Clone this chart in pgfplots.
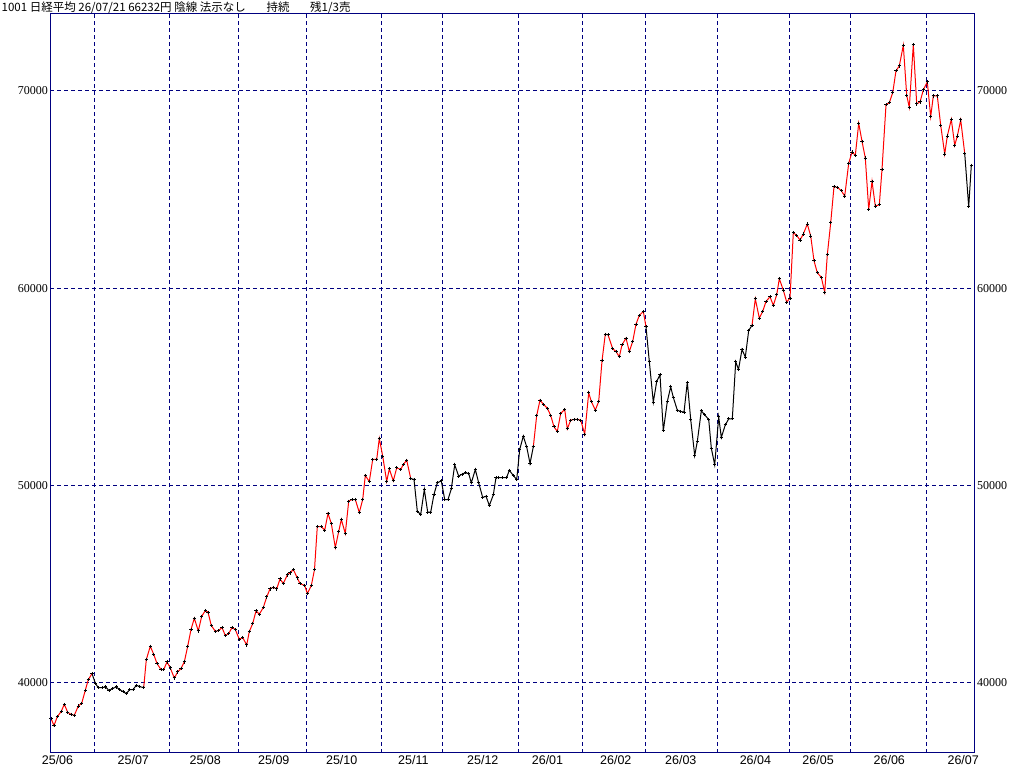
\documentclass[border=0pt]{standalone}
\usepackage{fontspec}
\setmainfont{Liberation Sans}
\newfontfamily\cjk{Noto Sans CJK JP}
\newfontfamily\serifnum{Liberation Serif}
\usepackage{pgfplots}
\usepackage{pgfplotstable}
\pgfplotsset{compat=1.18}
\definecolor{navy}{HTML}{000080}

% segments: x = bar position, y = close (yen)
\pgfplotstableread{
x y
51.0 38170
54.0 37802
57.3 38257
61.3 38528
64.3 38883
67.7 38477
71.0 38376
74.3 38325
78.3 38797
81.7 38934
85.3 39594
88.3 40135
92.0 40440
}\segA
\pgfplotstableread{
x y
92.0 40440
95.5 39932
98.3 39729
102.3 39729
105.7 39763
109.0 39579
112.3 39680
116.3 39763
119.7 39628
123.0 39527
126.3 39426
129.7 39628
133.0 39628
136.3 39848
139.7 39780
143.7 39729
}\segB
\pgfplotstableread{
x y
143.7 39729
146.3 41152
150.3 41827
153.7 41421
157.0 40949
161.0 40645
163.7 40645
167.0 41031
170.3 40726
174.3 40218
177.7 40523
181.0 40695
184.3 41031
187.7 41827
191.0 42675
194.3 43249
198.3 42604
201.7 43350
205.5 43650
208.0 43553
211.3 42878
215.3 42589
218.7 42624
222.0 42777
225.3 42371
228.7 42472
232.0 42777
235.3 42675
239.3 42183
242.7 42269
246.7 41893
249.3 42573
252.7 42980
256.0 43619
259.3 43452
263.3 43792
266.7 44330
270.0 44736
273.3 44822
276.7 44736
280.0 45243
283.3 45010
287.3 45446
290.0 45548
293.3 45721
297.3 45294
300.0 45010
304.7 44908
307.3 44502
311.3 44908
314.5 45721
317.3 47904
321.3 47904
324.7 47715
328.0 48563
331.3 48055
335.3 46837
338.7 47649
341.3 48259
345.3 47548
348.7 49188
352.0 49274
355.3 49274
359.3 48614
362.7 49274
365.3 50492
369.3 50187
372.7 51304
376.7 51304
379.3 52370
382.7 51472
386.7 50187
389.3 50829
393.3 50220
396.7 50879
400.7 50796
403.3 51050
406.7 51269
410.7 50339
}\segC
\pgfplotstableread{
x y
410.7 50339
414.0 50289
417.3 48680
420.7 48513
424.3 49782
427.7 48630
430.7 48630
434.0 49543
437.3 50117
441.3 50220
444.7 49274
448.0 49274
451.3 49812
454.7 51033
458.7 50457
462.0 50558
465.3 50626
468.7 50592
471.3 50117
475.3 50796
478.7 50117
482.7 49375
486.0 49441
489.3 48969
493.3 49508
496.0 50390
498.7 50390
502.0 50390
506.7 50390
509.3 50761
513.3 50492
516.7 50289
519.7 51812
523.3 52487
526.7 51945
530.0 51101
533.3 51945
}\segD
\pgfplotstableread{
x y
533.3 51945
536.7 53538
540.0 54314
543.3 54111
547.3 53908
550.7 53538
554.0 52959
557.3 52726
560.7 53639
564.7 53842
567.3 52858
570.7 53299
574.0 53334
577.3 53334
580.7 53299
584.7 52589
588.7 54685
591.3 54248
595.3 53807
598.7 54248
602.0 56309
605.3 57664
608.0 57630
612.7 56918
616.0 56784
619.3 56512
622.0 57122
626.0 57461
629.3 56784
632.7 57294
636.0 58172
639.3 58614
643.3 58817
646.0 58035
}\segE
\pgfplotstableread{
x y
646.0 58035
649.3 56279
653.3 54213
656.7 55264
660.0 55600
663.3 52757
667.3 54248
670.7 54990
673.3 54451
677.3 53807
680.7 53741
684.0 53705
687.3 55228
690.7 53334
694.7 51507
697.3 52218
701.3 53771
704.7 53568
708.7 53334
711.3 51878
714.7 51033
718.7 53467
721.3 52421
725.3 53061
728.7 53365
732.3 53365
735.7 56260
738.5 55872
742.0 56888
745.3 56500
748.7 57850
752.0 58106
}\segF
\pgfplotstableread{
x y
752.0 58106
755.3 59457
759.3 58477
762.7 58817
766.0 59324
770.0 59558
773.3 59121
776.7 59660
779.3 60472
783.3 59898
786.7 59289
790.0 59492
793.3 62807
796.7 62674
800.0 62436
803.3 62740
807.3 63248
810.7 62639
814.0 61385
817.3 60776
821.3 60543
824.7 59796
827.3 61689
830.7 63315
834.0 65150
837.7 65100
841.3 64939
844.7 64670
848.7 66329
852.0 66903
855.3 66735
858.7 68359
862.0 67446
865.3 66598
868.7 63994
872.0 65415
875.3 64162
879.3 64229
882.0 66025
886.0 69303
889.3 69405
892.7 69913
896.0 71030
899.3 71268
903.3 72319
906.7 69777
909.3 69168
913.3 72353
916.7 69341
920.0 69442
923.3 70051
927.3 70457
930.7 68696
933.3 69746
937.3 69746
940.7 68258
944.7 66801
947.3 67715
951.3 68562
954.7 67243
957.3 67715
960.7 68528
964.7 66835
}\segG
\pgfplotstableread{
x y
964.7 66835
968.7 64126
971.3 66232
}\segH

\begin{document}
\begin{tikzpicture}[x=1pt,y=1pt]
\path[use as bounding box] (0,0) rectangle (1024,767);
\node[anchor=north west, inner sep=0pt] at (1.5,765.5)
  {\cjk\fontsize{11.5}{12}\selectfont 1001 日経平均 26/07/21 66232円 陰線 法示なし\hspace{1.8em}持続\hspace{1.8em}残1/3売};
\begin{axis}[
  at={(50.3pt,14.3pt)}, anchor=south west,
  scale only axis, width=924pt, height=739.4pt,
  xmin=50.3, xmax=974.3, ymin=36428, ymax=73942,
  axis line style={navy, line width=1pt},
  major tick length=0pt,
  xtick={57.5,133.3,205.2,273.8,341.7,413.3,482.8,547.5,615.8,680.8,755.4,818.1,889.3,963.2},
  xticklabels={25/06,25/07,25/08,25/09,25/10,25/11,25/12,26/01,26/02,26/03,26/04,26/05,26/06,26/07},
  xticklabel style={anchor=north, inner sep=0pt, yshift=-2.3pt, font=\fontsize{12.5}{12.5}\selectfont},
  extra x ticks={94.3,169.3,238.3,306.6,381.3,442.9,518.4,582.9,645.5,717.3,789.7,850.5,926.5},
  extra x tick labels={},
  extra x tick style={xmajorgrids=true},
  ytick={40000,50000,60000,70000},
  ymajorgrids=true,
  grid style={navy, line width=1pt, dash pattern=on 4pt off 3pt},
  yticklabel style={anchor=east, inner sep=0pt, xshift=-2.3pt, font=\serifnum\fontsize{12}{12}\selectfont},
  scaled y ticks=false,
  /pgf/number format/assume math mode=true,
  yticklabel={\pgfmathprintnumber[fixed,1000 sep={}]{\tick}},
  clip=true,
]
\addplot[red, line width=1pt] table {\segA};
\addplot[black, line width=1pt] table {\segB};
\addplot[red, line width=1pt] table {\segC};
\addplot[black, line width=1pt] table {\segD};
\addplot[red, line width=1pt] table {\segE};
\addplot[black, line width=1pt] table {\segF};
\addplot[red, line width=1pt] table {\segG};
\addplot[black, line width=1pt] table {\segH};
\addplot[only marks, mark=+, mark size=1.6pt, mark options={black, line width=1pt}] table {\segA};
\addplot[only marks, mark=+, mark size=1.6pt, mark options={black, line width=1pt}] table {\segB};
\addplot[only marks, mark=+, mark size=1.6pt, mark options={black, line width=1pt}] table {\segC};
\addplot[only marks, mark=+, mark size=1.6pt, mark options={black, line width=1pt}] table {\segD};
\addplot[only marks, mark=+, mark size=1.6pt, mark options={black, line width=1pt}] table {\segE};
\addplot[only marks, mark=+, mark size=1.6pt, mark options={black, line width=1pt}] table {\segF};
\addplot[only marks, mark=+, mark size=1.6pt, mark options={black, line width=1pt}] table {\segG};
\addplot[only marks, mark=+, mark size=1.6pt, mark options={black, line width=1pt}] table {\segH};
\end{axis}
\begin{axis}[
  at={(50.3pt,14.3pt)}, anchor=south west,
  scale only axis, width=924pt, height=739.4pt,
  xmin=50.3, xmax=974.3, ymin=36428, ymax=73942,
  axis line style={navy, line width=1pt},
  major tick length=0pt,
  xtick=\empty,
  ytick={40000,50000,60000,70000},
  yticklabel pos=right,
  yticklabel style={anchor=west, inner sep=0pt, xshift=2.7pt, font=\serifnum\fontsize{12}{12}\selectfont},
  scaled y ticks=false,
  /pgf/number format/assume math mode=true,
  yticklabel={\pgfmathprintnumber[fixed,1000 sep={}]{\tick}},
]
\end{axis}
\end{tikzpicture}
\end{document}
